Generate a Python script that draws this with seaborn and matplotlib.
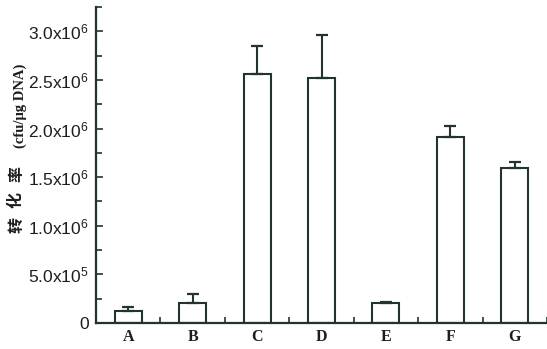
import matplotlib
matplotlib.use("Agg")
import matplotlib.pyplot as plt
from matplotlib.ticker import MultipleLocator, FixedLocator
import seaborn as sns
import pandas as pd
import numpy as np

categories = ["A", "B", "C", "D", "E", "F", "G"]
values = [1.22e5, 2.05e5, 2.56e6, 2.52e6, 2.05e5, 1.91e6, 1.59e6]
errors = [0.4e5, 0.95e5, 0.29e6, 0.44e6, 0.1e5, 0.12e6, 0.07e6]
ytick_values = [0, 5e5, 1e6, 1.5e6, 2e6, 2.5e6, 3e6]
ytick_labels = ["0", r"5.0x10$^{5}$", r"1.0x10$^{6}$", r"1.5x10$^{6}$",
                r"2.0x10$^{6}$", r"2.5x10$^{6}$", r"3.0x10$^{6}$"]
ylabel_cn = ["转", "化", "率"]
ylabel_unit = "(cfu/μg DNA)"

sns.set_style("ticks")
plt.rcParams["font.family"] = ["Liberation Sans", "DejaVu Sans"]
plt.rcParams["mathtext.default"] = "regular"

df = pd.DataFrame({"cat": categories, "val": values})
edge = "#23332f"
txt = "#1e1e1e"

fig = plt.figure(figsize=(5.47, 3.49), dpi=100)
ax = fig.add_axes([96/547, 26/349, 451/547, 316/349])

sns.barplot(data=df, x="cat", y="val", order=categories, color="white",
            edgecolor=edge, linewidth=1.5, width=0.42, ax=ax, errorbar=None,
            saturation=1)
x = np.arange(len(categories))
ax.errorbar(x, values, yerr=[np.zeros(len(errors)), errors], fmt="none",
            ecolor=edge, elinewidth=1.5, capsize=4, capthick=1.6)

ax.set_xlim(-0.5, 6.5)
ax.set_ylim(0, 3.25e6)
ax.set_yticks(ytick_values)
ax.set_yticklabels(ytick_labels, fontsize=12.5, color=txt)
ax.yaxis.set_minor_locator(MultipleLocator(2.5e5))
ax.xaxis.set_minor_locator(FixedLocator(np.arange(-0.5, 7, 1.0)))
ax.set_xticks(x)
ax.set_xticklabels(categories, fontsize=11.5, fontweight="bold",
                   family=["Liberation Serif", "DejaVu Serif"], color=txt)
ax.tick_params(axis="both", which="major", direction="in", length=5, width=1.2,
               color=edge)
ax.tick_params(axis="both", which="minor", direction="in", length=4, width=1.2,
               color=edge)
ax.tick_params(axis="y", pad=5)
ax.tick_params(axis="x", pad=4)
for s in ["top", "right"]:
    ax.spines[s].set_visible(False)
for s in ["left", "bottom"]:
    ax.spines[s].set_color(edge)
    ax.spines[s].set_linewidth(1.6)
ax.set_xlabel("")
ax.set_ylabel("")

for ch, yc in zip(ylabel_cn, [225, 200, 174]):
    fig.text(16/547, 1 - yc/349, ch, rotation=90, ha="center", va="center",
             fontsize=11.5, fontweight="bold",
             family=["Noto Sans CJK SC", "DejaVu Sans"], color=txt)
fig.text(20/547, 1 - 106/349, ylabel_unit, rotation=90, ha="center", va="center",
         fontsize=10.5, fontweight="bold",
         family=["Liberation Serif", "DejaVu Serif"], color=txt)

fig.savefig("out.png", dpi=100)
